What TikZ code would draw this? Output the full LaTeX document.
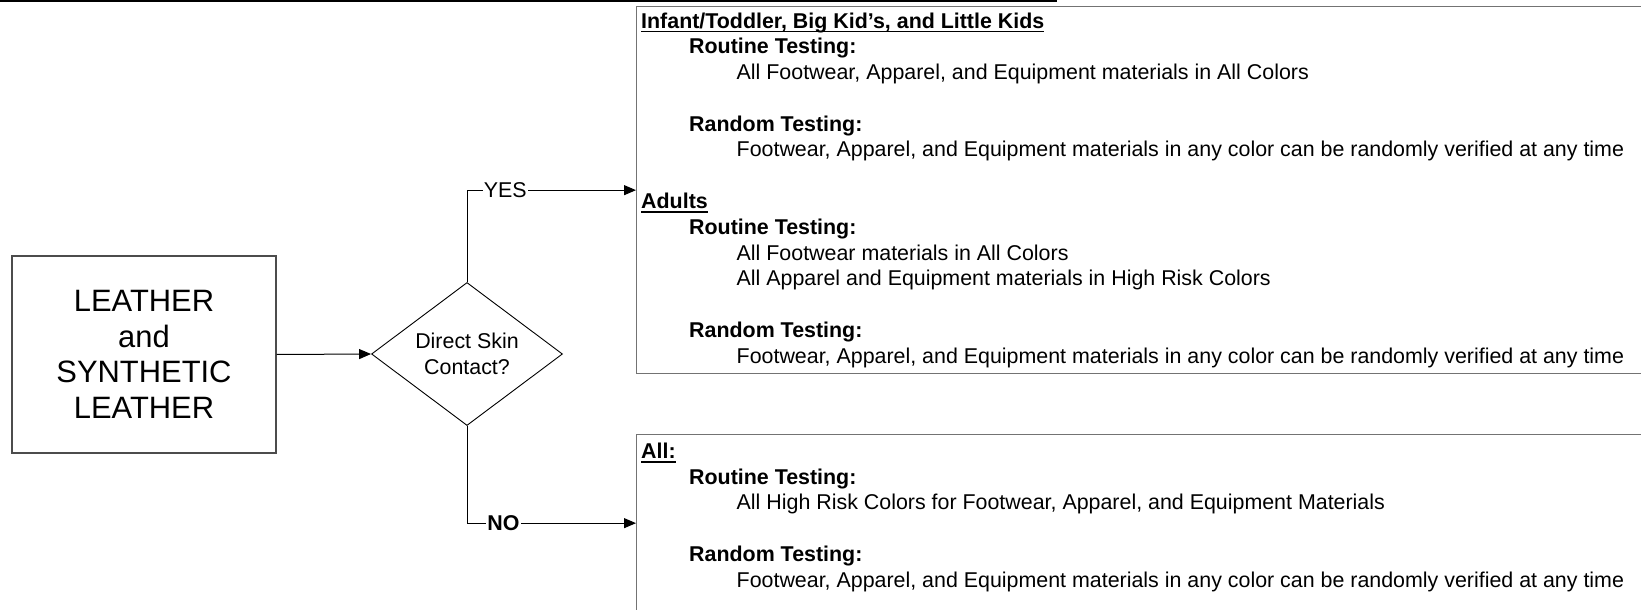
\documentclass[tikz,border=0pt]{standalone}
\usepackage{fontspec}
\setmainfont{Liberation Sans}
\usetikzlibrary{shapes.geometric,arrows.meta}

\newcommand\txtsize{\fontsize{21.4bp}{25.75bp}\selectfont}
\newcommand\bigsize{\fontsize{30.9bp}{35.6bp}\selectfont}

\tikzset{
  boxline/.style={draw=black!55, line width=1.3bp},
  head/.style={anchor=base west, inner sep=0pt, font=\txtsize\bfseries},
  sub/.style={anchor=base west, inner sep=0pt, font=\txtsize\bfseries},
  item/.style={anchor=base west, inner sep=0pt, font=\txtsize},
  uline/.style={line width=1.8bp},
  flow/.style={->, line width=1bp},
}

\begin{document}
\begin{tikzpicture}[x=1bp, y=1bp, >={Triangle[length=12bp,width=10bp]}]
    \useasboundingbox (0,0) rectangle (1641,-610);
    \clip (0,0) rectangle (1641,-610);

    % Rule at the top of the page
    \draw[line width=2.4bp] (0,-1.2) -- (1057,-1.2);

    % Start box and decision
    \node[draw=black!70, line width=1.2bp, minimum width=264bp, minimum height=197bp,
          align=center, font=\bigsize] (src) at (144,-354.5) {LEATHER\\and\\SYNTHETIC\\LEATHER};
    \node[diamond, draw, line width=0.9bp, aspect=1.336, minimum width=191bp, minimum height=143bp,
          inner sep=0pt, align=center, font=\txtsize] (dec) at (467,-354) {Direct Skin\\Contact?};

    % Result boxes (run past the page edge)
    \node[boxline, anchor=north west, minimum width=1010bp, minimum height=367bp] (kids) at (636,-6) {};
    \node[boxline, anchor=north west, minimum width=1010bp, minimum height=177bp] (all) at (636,-434) {};

    % Connectors
    \draw[flow] (src.east) -- (dec.west);
    \draw[flow] (dec.north) |- (kids.west)
        node[pos=0.613, fill=white, inner sep=1bp, font=\txtsize] (yes) {YES};
    \draw[flow] (dec.south) |- (all.west)
        node[pos=0.608, fill=white, inner sep=1bp, font=\txtsize\bfseries] (no) {NO};

    % Children
    \node[head] (k1) at (641,-28.2) {Infant/Toddler, Big Kid’s, and Little Kids};
    \node[sub] (k2) at (689,-54) {Routine Testing:};
    \node[item] (k3) at (736.5,-79.7) {All Footwear, Apparel, and Equipment materials in All Colors};
    \node[sub] (k4) at (689,-131.2) {Random Testing:};
    \node[item] (k5) at (736.5,-157) {Footwear, Apparel, and Equipment materials in any color can be randomly verified at any time};

    % Adults
    \node[head] (a1) at (641,-208.5) {Adults};
    \node[sub] (a2) at (689,-234.2) {Routine Testing:};
    \node[item] (a3) at (736.5,-260) {All Footwear materials in All Colors};
    \node[item] (a4) at (736.5,-285.8) {All Apparel and Equipment materials in High Risk Colors};
    \node[sub] (a5) at (689,-337.3) {Random Testing:};
    \node[item] (a6) at (736.5,-363) {Footwear, Apparel, and Equipment materials in any color can be randomly verified at any time};

    % No skin contact
    \node[head] (g1) at (641,-458.3) {All:};
    \node[sub] (g2) at (689,-484) {Routine Testing:};
    \node[item] (g3) at (736.5,-509.8) {All High Risk Colors for Footwear, Apparel, and Equipment Materials};
    \node[sub] (g4) at (689,-561.3) {Random Testing:};
    \node[item] (g5) at (736.5,-587.1) {Footwear, Apparel, and Equipment materials in any color can be randomly verified at any time};

    % Underlined headings
    \foreach \h in {k1,a1,g1}
        \draw[uline] ([yshift=-3.4bp]\h.base west) -- ([yshift=-3.4bp]\h.base east);
\end{tikzpicture}
\end{document}
